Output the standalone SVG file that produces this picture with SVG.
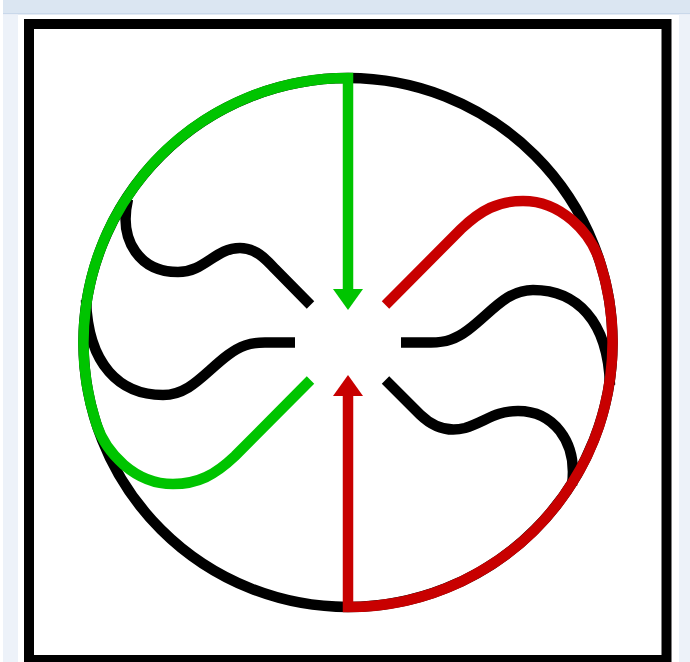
<svg xmlns="http://www.w3.org/2000/svg" width="690" height="662" viewBox="0 0 690 662">
  <style>
    .ln { fill: none; stroke-width: 10.5; stroke-linecap: butt; stroke-linejoin: miter; }
    .blk { stroke: #000000; }
    .grn { stroke: #00c400; }
    .red { stroke: #c80000; }
  </style>
  <g id="background">
    <rect x="0" y="0" width="690" height="662" fill="#ffffff"/>
    <rect x="3" y="0" width="687" height="14" fill="#dbe6f2"/>
    <rect x="3" y="13" width="687" height="1.5" fill="#c9d8ea"/>
    <rect x="3" y="14.5" width="15" height="648" fill="#edf2f9"/>
    <rect x="679" y="14.5" width="11" height="648" fill="#edf2f9"/>
  </g>
  <g id="frame">
    <rect x="29" y="24" width="637.5" height="636" fill="#ffffff" stroke="#000000" stroke-width="10"/>
  </g>
  <g id="ring">
    <circle class="ln blk" cx="348" cy="342.5" r="264.5"/>
  </g>
  <g id="connectors">
    <path id="wave-top-left" class="ln blk" d="M128,199 C118,242 141,272 178,272 C205,272 215,248 240,248 C255,248 265,258 275,269 L310.5,305"/>
    <path id="wave-left" class="ln blk" d="M86,300 C88,365 120,395 163,395 C190,395 205,372 228,355 C240,346 250,342.5 265,342.5 L295,342.5"/>
    <path id="wave-right" class="ln blk" d="M86,300 C88,365 120,395 163,395 C190,395 205,372 228,355 C240,346 250,342.5 265,342.5 L295,342.5" transform="rotate(180 348 342.5)"/>
    <path id="wave-bottom-right" class="ln blk" d="M385.5,380 L420,414.5 C435,429 450,432 465,428 C485,422 495,411 518,411 C552,411 578,440 572,485"/>
    <g id="green-path">
      <path class="ln grn" d="M348,290 L348,78 A264.5,264.5 0 0 0 96.4,424.2 C106,453 135,484 173,484 C198,484 215,475 235,456 L310.5,380"/>
      <polygon points="333,289 363,289 348,310" fill="#00c400"/>
    </g>
    <g id="red-path" transform="rotate(180 348 342.5)">
      <path class="ln red" d="M348,290 L348,78 A264.5,264.5 0 0 0 96.4,424.2 C106,453 135,484 173,484 C198,484 215,475 235,456 L310.5,380"/>
      <polygon points="333,289 363,289 348,310" fill="#c80000"/>
    </g>
  </g>
</svg>
